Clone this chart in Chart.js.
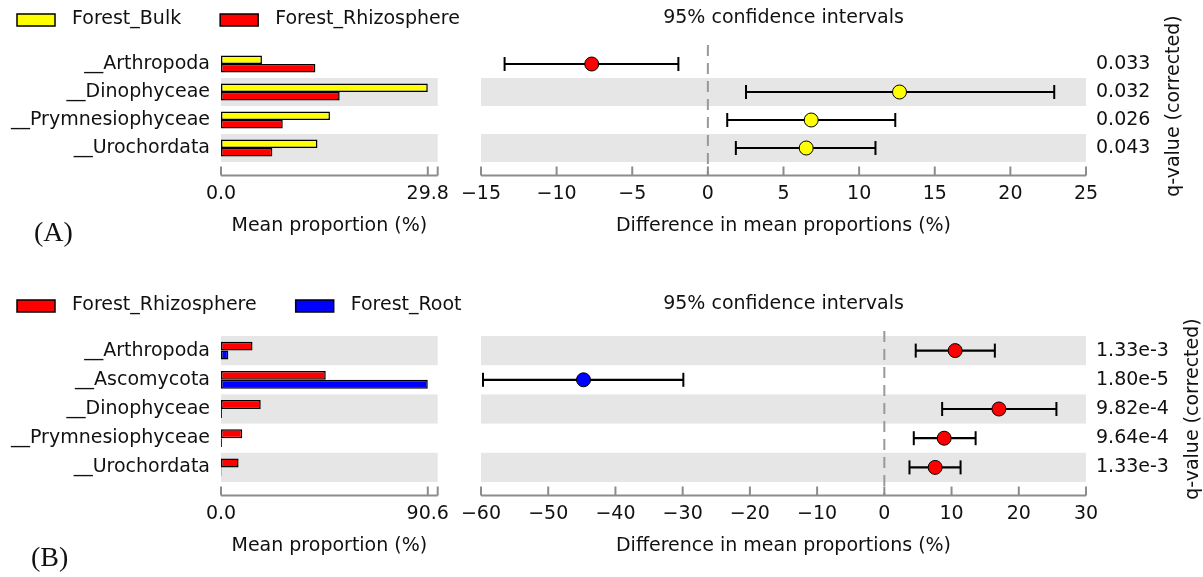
<!DOCTYPE html>
<html>
<head>
<meta charset="utf-8">
<script src="https://cdn.jsdelivr.net/npm/chart.js@4.4.1/dist/chart.umd.min.js"></script>
<style>
  body { margin: 0; background: #fff; }
  #page { position: relative; width: 1203px; height: 577px; overflow: hidden; background: #fff; }
  canvas { position: absolute; }
  .tag { position: absolute; font-family: 'Liberation Serif', 'Times New Roman', serif; font-size: 28px; line-height: 1; color: #111; }
</style>
</head>
<body>
<div id="page">
  <canvas id="barA" width="480" height="250" style="left:0;top:0"></canvas>
  <canvas id="ciA" width="773" height="250" style="left:430px;top:0"></canvas>
  <canvas id="barB" width="480" height="284" style="left:0;top:286px"></canvas>
  <canvas id="ciB" width="773" height="284" style="left:430px;top:286px"></canvas>
  <div class="tag" style="left:34px;top:218px">(A)</div>
  <div class="tag" style="left:31px;top:543px">(B)</div>
</div>
<script>
// (A) Forest_Bulk vs Forest_Rhizosphere
const taxaA = ['__Arthropoda', '__Dinophyceae', '__Prymnesiophyceae', '__Urochordata'];
const groupsA = ['Forest_Bulk', 'Forest_Rhizosphere'];
const bulkA = [5.9, 29.8, 15.7, 13.9];
const rhizoA = [13.6, 17.1, 8.9, 7.4];
const diffA = [-7.68, 12.67, 6.83, 6.50];
const lowA = [-13.44, 2.52, 1.28, 1.85];
const highA = [-1.95, 22.90, 12.39, 11.08];
const qA = ['0.033', '0.032', '0.026', '0.043'];
const diffTicksA = [-15, -10, -5, 0, 5, 10, 15, 20, 25];

// (B) Forest_Rhizosphere vs Forest_Root
const taxaB = ['__Arthropoda', '__Ascomycota', '__Dinophyceae', '__Prymnesiophyceae', '__Urochordata'];
const groupsB = ['Forest_Rhizosphere', 'Forest_Root'];
const rhizoB = [13.8, 45.9, 17.4, 9.3, 7.7];
const rootB = [3.2, 90.6, 0.4, 0.4, 0.2];
const diffB = [10.54, -44.75, 17.05, 8.90, 7.56];
const lowB = [4.67, -59.7, 8.6, 4.38, 3.74];
const highB = [16.44, -29.9, 25.6, 13.58, 11.34];
const qB = ['1.33e-3', '1.80e-5', '9.82e-4', '9.64e-4', '1.33e-3'];
const diffTicksB = [-60, -50, -40, -30, -20, -10, 0, 10, 20, 30];

const FONT = "'DejaVu Sans', sans-serif";
const INK = '#111111';
const AXIS_GRAY = '#8c8c8c';
const BAND = '#e6e6e6';
const YELLOW = '#ffff00', RED = '#ff0000', BLUE = '#0000ff';

Chart.defaults.font.family = FONT;
Chart.defaults.font.size = 19;
Chart.defaults.color = INK;

const font19 = { family: FONT, size: 19, weight: 'normal' };
const minus = v => (v < 0 ? '\u2212' + Math.abs(v) : String(v));

// alternating grey rows, counted from the bottom row
const rowBands = {
  id: 'rowBands',
  beforeDatasetsDraw(chart) {
    const { ctx, chartArea: a } = chart;
    const ys = chart.scales.y;
    const n = chart.options.plugins.rowBands.rows;
    ctx.save();
    ctx.fillStyle = BAND;
    for (let i = n - 1; i >= 0; i -= 2) {
      const t = ys.getPixelForValue(i - 0.5), b = ys.getPixelForValue(i + 0.5);
      ctx.fillRect(a.left, Math.min(t, b), a.right - a.left, Math.abs(b - t));
    }
    ctx.restore();
  }
};

// grey axis line below the plot with upward tick marks
const bottomAxis = {
  id: 'bottomAxis',
  afterDraw(chart) {
    const { ctx, chartArea: a } = chart;
    const xs = chart.scales.x;
    const y = a.bottom + 13.5;
    ctx.save();
    ctx.strokeStyle = AXIS_GRAY;
    ctx.lineWidth = 2;
    ctx.beginPath();
    ctx.moveTo(a.left, y);
    ctx.lineTo(a.right, y);
    const marks = xs.ticks.map(t => xs.getPixelForValue(t.value)).concat([a.left, a.right]);
    marks.forEach(px => { ctx.moveTo(px, y); ctx.lineTo(px, y - 9); });
    ctx.stroke();
    ctx.restore();
  }
};

// dashed line at zero difference
const zeroLine = {
  id: 'zeroLine',
  beforeDatasetsDraw(chart) {
    const { ctx, chartArea: a } = chart;
    const x = chart.scales.x.getPixelForValue(0);
    ctx.save();
    ctx.strokeStyle = '#999999';
    ctx.lineWidth = 2;
    ctx.setLineDash([11, 7]);
    ctx.beginPath();
    ctx.moveTo(x, a.top - 5);
    ctx.lineTo(x, a.bottom + 13.5);
    ctx.stroke();
    ctx.restore();
  }
};

// q-value axis title, reading upwards
const qTitle = {
  id: 'qTitle',
  afterDraw(chart) {
    const { ctx, chartArea: a } = chart;
    const qs = chart.scales.q;
    ctx.save();
    ctx.font = `19px ${FONT}`;
    const widest = Math.max(...qs.getLabels().map(s => ctx.measureText(s).width));
    const x = a.right + 10 + widest + 24;
    ctx.translate(x, (a.top + a.bottom) / 2);
    ctx.rotate(-Math.PI / 2);
    ctx.fillStyle = INK;
    ctx.textAlign = 'center';
    ctx.textBaseline = 'middle';
    ctx.fillText('q-value (corrected)', 0, 0);
    ctx.restore();
  }
};

// group swatches across the top
const swatchLegend = {
  id: 'swatchLegend',
  afterDraw(chart) {
    const ctx = chart.ctx;
    ctx.save();
    ctx.font = `19px ${FONT}`;
    ctx.textBaseline = 'middle';
    let x = 17;
    chart.data.datasets.forEach(ds => {
      ctx.fillStyle = ds.backgroundColor;
      ctx.fillRect(x, 14, 38, 12);
      ctx.lineWidth = 1.5;
      ctx.strokeStyle = '#000';
      ctx.strokeRect(x, 14, 38, 12);
      ctx.fillStyle = INK;
      ctx.fillText(ds.label, x + 55, 19);
      x += 55 + ctx.measureText(ds.label).width + 39;
    });
    ctx.restore();
  }
};

function barChart(id, taxa, names, series, colors) {
  const top = Math.max(...series.flat());
  return new Chart(document.getElementById(id), {
    type: 'bar',
    data: {
      labels: taxa,
      datasets: series.map((vals, k) => ({
        label: names[k],
        data: vals,
        backgroundColor: colors[k],
        borderColor: '#000',
        borderWidth: 1.5,
        borderSkipped: false,
        categoryPercentage: 0.61,
        barPercentage: 1.0
      }))
    },
    options: {
      indexAxis: 'y',
      responsive: false,
      animation: false,
      layout: { padding: { top: 50, right: 42.3, bottom: 0, left: 0 } },
      plugins: {
        legend: { display: false },
        tooltip: { enabled: false },
        rowBands: { rows: taxa.length }
      },
      scales: {
        x: {
          min: 0,
          max: top * 1.048,
          afterBuildTicks: s => { s.ticks = [{ value: 0 }, { value: top }]; },
          afterFit: s => { s.height = 88; },
          grid: { display: false, drawTicks: false },
          border: { display: false },
          ticks: { font: font19, color: INK, padding: 21, autoSkip: false, maxRotation: 0,
                   callback: v => v.toFixed(1) },
          title: { display: true, text: 'Mean proportion (%)', font: font19, color: INK,
                   padding: { top: 0, bottom: 13 } }
        },
        y: {
          afterFit: s => { s.width = 221; },
          grid: { display: false, drawTicks: false },
          border: { display: false },
          ticks: { font: font19, color: INK, padding: 11, autoSkip: false }
        }
      }
    },
    plugins: [rowBands, bottomAxis, swatchLegend]
  });
}

function ciChart(id, taxa, diff, low, high, q, ticks, colors) {
  const n = taxa.length;
  const whiskers = taxa.map((t, i) => ({
    type: 'line',
    label: t,
    data: [{ x: low[i], y: i }, { x: high[i], y: i }],
    showLine: true,
    borderColor: '#000',
    borderWidth: 2.2,
    pointStyle: 'line',
    rotation: 90,
    pointRadius: 7,
    pointBorderColor: '#000',
    pointBorderWidth: 2,
    xAxisID: 'x',
    yAxisID: 'y',
    order: 2
  }));
  const means = {
    type: 'scatter',
    label: 'mean difference',
    data: diff.map((d, i) => ({ x: d, y: i })),
    pointRadius: 7,
    pointBackgroundColor: diff.map(d => (d > 0 ? colors[0] : colors[1])),
    pointBorderColor: '#000',
    pointBorderWidth: 1,
    xAxisID: 'x',
    yAxisID: 'y',
    order: 1
  };
  return new Chart(document.getElementById(id), {
    type: 'scatter',
    data: { datasets: [means, ...whiskers] },
    options: {
      responsive: false,
      animation: false,
      layout: { padding: { top: 0, right: 0, bottom: 0, left: 51 } },
      plugins: {
        legend: { display: false },
        tooltip: { enabled: false },
        rowBands: { rows: n },
        title: {
          display: true,
          fullSize: false,
          text: '95% confidence intervals',
          font: font19,
          color: INK,
          padding: { top: 6.6, bottom: 20.6 }
        }
      },
      scales: {
        x: {
          type: 'linear',
          min: ticks[0],
          max: ticks[ticks.length - 1],
          afterBuildTicks: s => { s.ticks = ticks.map(v => ({ value: v })); },
          afterFit: s => { s.height = 88; },
          grid: { display: false, drawTicks: false },
          border: { display: false },
          ticks: { font: font19, color: INK, padding: 21, autoSkip: false, maxRotation: 0,
                   callback: v => minus(v) },
          title: { display: true, text: 'Difference in mean proportions (%)', font: font19, color: INK,
                   padding: { top: 0, bottom: 13 } }
        },
        y: { type: 'linear', display: false, reverse: true, min: -0.5, max: n - 0.5 },
        q: {
          type: 'category',
          axis: 'y',
          position: 'right',
          labels: q,
          offset: true,
          afterFit: s => { s.width = 117; },
          grid: { display: false, drawTicks: false },
          border: { display: false },
          ticks: { font: font19, color: INK, padding: 10, autoSkip: false }
        }
      }
    },
    plugins: [rowBands, zeroLine, bottomAxis, qTitle]
  });
}

barChart('barA', taxaA, groupsA, [bulkA, rhizoA], [YELLOW, RED]);
ciChart('ciA', taxaA, diffA, lowA, highA, qA, diffTicksA, [YELLOW, RED]);
barChart('barB', taxaB, groupsB, [rhizoB, rootB], [RED, BLUE]);
ciChart('ciB', taxaB, diffB, lowB, highB, qB, diffTicksB, [RED, BLUE]);
</script>
</body>
</html>
